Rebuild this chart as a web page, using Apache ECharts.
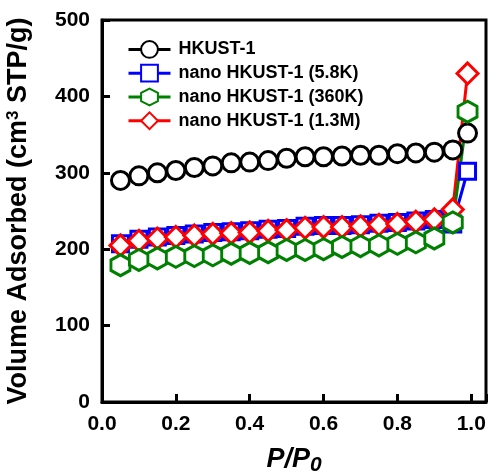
<!DOCTYPE html>
<html><head><meta charset="utf-8">
<script src="https://cdn.jsdelivr.net/npm/echarts@6/dist/echarts.min.js"></script>
<style>html,body{margin:0;padding:0;background:#fff}#c{width:489px;height:472px}</style>
</head><body><div id="c"></div>
<script>
const pressures = [0.05,0.10,0.15,0.20,0.25,0.30,0.35,0.40,0.45,0.50,0.55,0.60,0.65,0.70,0.75,0.80,0.85,0.90,0.95,0.99];
const hkust = [290,296,300,303,307,309,313,314,316,319,321,321,322,323,323,325,326,327,330,352];
const nano58K = [207,213,216,218,220,222,223,224,226,227,230,231,231,232,234,235,237,239,233,302];
const nano360K = [179,186,188,190,191,192,194,195,196,199,199,200,203,204,205,207,209,214,235,380];
const nano13M = [205,211,214,216,218,220,221,222,224,225,228,229,229,230,232,233,236,239,252,430];
const seriesNames = ['HKUST-1','nano HKUST-1 (5.8K)','nano HKUST-1 (360K)','nano HKUST-1 (1.3M)'];
const xTicks = [0,0.2,0.4,0.6,0.8,1.0];
const yTicks = [0,100,200,300,400,500];

const hex = 'path://M0,-1L0.866,-0.5L0.866,0.5L0,1L-0.866,0.5L-0.866,-0.5Z';
function pairs(ys){ return pressures.map((x,i)=>[x,ys[i]]); }
function mk(name, ys, color, symbol, size){
  return {name, type:'line', data:pairs(ys), symbol, symbolSize:size, showSymbol:true,
    lineStyle:{color, width:3}, itemStyle:{color:'#fff', borderColor:color, borderWidth:3},
    emphasis:{disabled:true}, animation:false};
}
const chart = echarts.init(document.getElementById('c'));
const FF = 'Liberation Sans, Arial, sans-serif';
chart.setOption({
  animation:false,
  grid:{left:102,right:3,top:20,bottom:70,show:true,borderColor:'#000',borderWidth:3,outerBoundsMode:'none',containLabel:false},
  legend:{orient:'vertical',left:122,top:35,itemWidth:42,itemHeight:21,itemGap:5,
    data:seriesNames, lineStyle:{width:3},
    textStyle:{fontFamily:FF,fontWeight:'bold',fontSize:18,color:'#000',padding:[0,0,0,3]}},
  xAxis:{type:'value',min:0,max:1.04,interval:0.2,
    axisLine:{show:true,lineStyle:{color:'#000',width:3}},
    axisTick:{show:true,inside:true,length:8,lineStyle:{width:3,color:'#000'}},
    splitLine:{show:false},
    axisLabel:{fontFamily:FF,fontWeight:'bold',fontSize:21,color:'#000',margin:12,
      formatter:v=>{const t=xTicks.find(t=>Math.abs(t-v)<1e-6);return t===undefined?'':t.toFixed(1);}},
    name:'{i|P/P}{s|0}',nameLocation:'middle',nameGap:41,
    nameTextStyle:{rich:{i:{fontFamily:FF,fontStyle:'italic',fontWeight:'bold',fontSize:27,color:'#000'},
      s:{fontFamily:FF,fontStyle:'italic',fontWeight:'bold',fontSize:21,color:'#000',padding:[12,0,0,0]}}}},
  yAxis:{type:'value',min:0,max:500,interval:100,
    axisLine:{show:true,lineStyle:{color:'#000',width:3}},
    axisTick:{show:true,inside:true,length:8,lineStyle:{width:3,color:'#000'}},
    splitLine:{show:false},
    axisLabel:{fontFamily:FF,fontWeight:'bold',fontSize:21,color:'#000',margin:12,
      formatter:v=>yTicks.includes(v)?String(v):''},
    name:'Volume Adsorbed (cm{sup|3} STP/g)',nameLocation:'middle',nameGap:70,nameRotate:90,
    nameTextStyle:{fontFamily:FF,fontWeight:'bold',fontSize:27,color:'#000',
      rich:{sup:{fontFamily:FF,fontWeight:'bold',fontSize:17,color:'#000',padding:[0,0,10,0]}}}},
  series:[
    mk(seriesNames[0],hkust,'#000000','circle',18),
    mk(seriesNames[1],nano58K,'#0000ff','rect',16),
    mk(seriesNames[3],nano13M,'#ff0000','diamond',21),
    mk(seriesNames[2],nano360K,'#008000',hex,[19,21])
  ]
});
</script></body></html>
